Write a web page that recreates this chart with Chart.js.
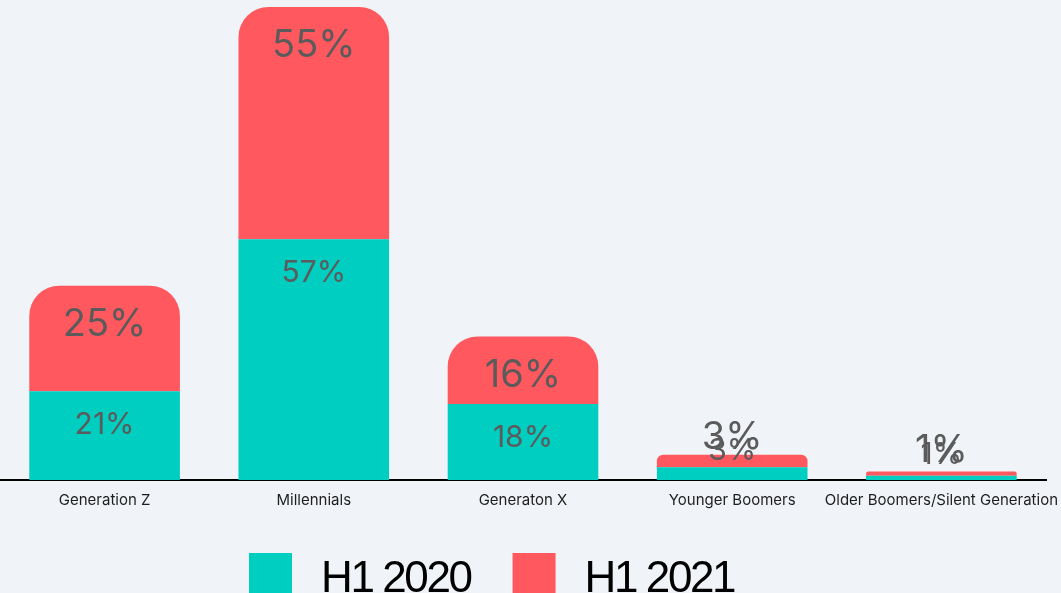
<!DOCTYPE html>
<html>
<head>
<meta charset="utf-8">
<script src="https://cdn.jsdelivr.net/npm/chart.js@4.4.1/dist/chart.umd.min.js"></script>
<style>
  html, body { margin: 0; padding: 0; background: #f0f3f7; overflow: hidden; }
  #wrap { width: 1061px; height: 593px; position: relative; }
</style>
</head>
<body>
<div id="wrap"><canvas id="myChart"></canvas></div>
<script>
const categories = ["Generation Z", "Millennials", "Generaton X", "Younger Boomers", "Older Boomers/Silent Generation"];
const h12020 = [21, 57, 18, 3, 1];
const h12021 = [25, 55, 16, 3, 1];
const seriesLabels = ["H1 2020", "H1 2021"];
const seriesColors = ["#00cec0", "#ff585e"];

// value labels sit near the top of each segment, or above it when it is too thin
const valueLabels = {
  id: "valueLabels",
  afterDatasetsDraw(chart) {
    const ctx = chart.ctx;
    ctx.save();
    ctx.fillStyle = "#5b5b5b";
    ctx.textAlign = "center";
    ctx.textBaseline = "middle";
    chart.data.datasets.forEach((ds, di) => {
      const meta = chart.getDatasetMeta(di);
      const size = di === 0 ? 30 : 38;
      const offset = di === 0 ? 34 : 39;
      ctx.font = size + "px Inter";
      meta.data.forEach((bar, i) => {
        const { x, y, base } = bar.getProps(["x", "y", "base"], true);
        const top = Math.min(y, base);
        const bottom = Math.max(y, base);
        let ly = top + offset;
        if (bottom - top < size) ly = (top + bottom) / 2 - 23;
        ctx.fillText(ds.data[i] + "%", x, ly);
      });
    });
    ctx.restore();
  },
};

const bottomLegend = {
  id: "bottomLegend",
  afterDraw(chart) {
    const ctx = chart.ctx;
    ctx.save();
    ctx.font = "44px 'Liberation Sans'";
    ctx.letterSpacing = "-2.4px";
    ctx.textBaseline = "alphabetic";
    ctx.textAlign = "left";
    let x = 249;
    chart.data.datasets.forEach((ds) => {
      ctx.fillStyle = ds.backgroundColor;
      ctx.fillRect(x, 553, 43, 43);
      const tx = x + 43 + 29;
      ctx.fillStyle = "#000";
      ctx.fillText(ds.label, tx, 592);
      x = tx + ctx.measureText(ds.label).width + 42;
    });
    ctx.restore();
  },
};

new Chart(document.getElementById("myChart"), {
  type: "bar",
  data: {
    labels: categories,
    datasets: [
      {
        label: seriesLabels[0],
        data: h12020,
        backgroundColor: seriesColors[0],
        borderRadius: 0,
      },
      {
        label: seriesLabels[1],
        data: h12021,
        backgroundColor: seriesColors[1],
        borderRadius: { topLeft: 30, topRight: 30, bottomLeft: 0, bottomRight: 0 },
      },
    ],
  },
  options: {
    responsive: true,
    maintainAspectRatio: false,
    animation: false,
    barPercentage: 0.8,
    categoryPercentage: 0.9,
    layout: { padding: { top: 7, right: 15, left: 0, bottom: 81 } },
    plugins: {
      legend: { display: false },
      tooltip: { enabled: false },
    },
    scales: {
      x: {
        stacked: true,
        grid: { display: false },
        border: { color: "#000", width: 2 },
        ticks: {
          color: "#1e1e1e",
          font: { family: "Inter", size: 15 },
          padding: 3,
          maxRotation: 0,
          autoSkip: false,
        },
        afterFit(scale) {
          scale.paddingLeft = 0;
          scale.paddingRight = 0;
        },
      },
      y: {
        stacked: true,
        display: false,
        min: 0,
        max: 112,
      },
    },
  },
  plugins: [valueLabels, bottomLegend],
});
</script>
</body>
</html>
